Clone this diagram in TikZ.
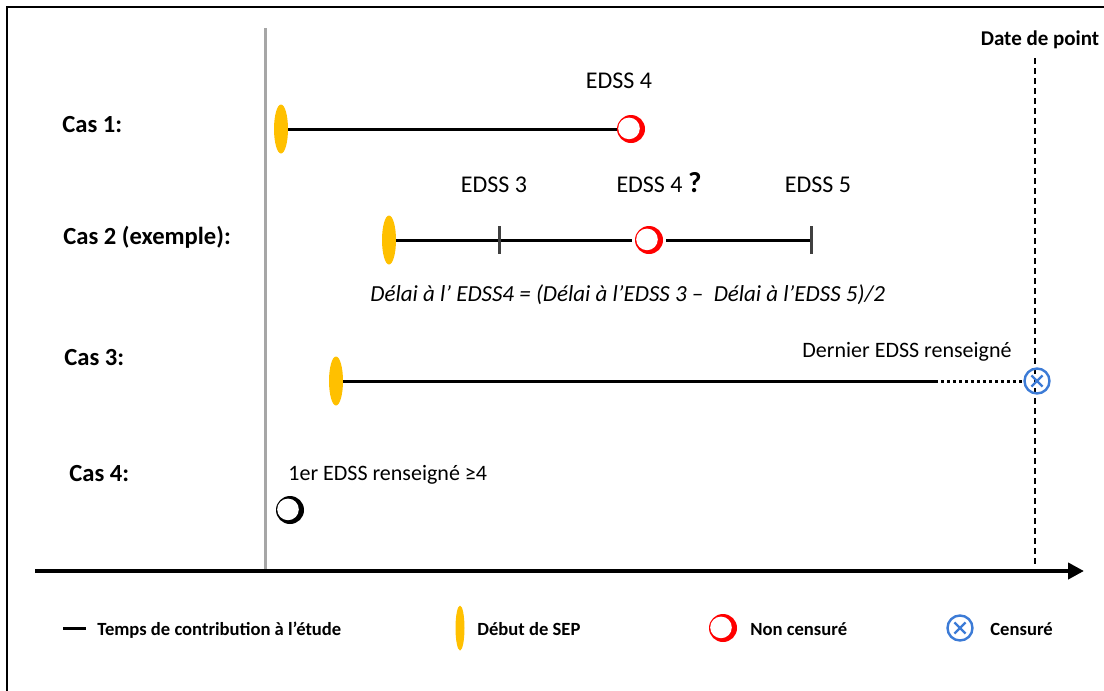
\documentclass[tikz,border=0pt]{standalone}
\usepackage{fontspec}
\setmainfont{Carlito}
\usetikzlibrary{shapes.geometric,arrows.meta}
\definecolor{sepjaune}{HTML}{FFC000}
\definecolor{censbleu}{HTML}{3C7BD6}
\definecolor{axegris}{HTML}{A6A6A6}
\definecolor{trait}{HTML}{404040}

\tikzset{
  debut/.style={ellipse, fill=sepjaune, inner sep=0pt, minimum width=7pt, minimum height=24.5pt},
  lune/.style={circle, fill=#1, inner sep=0pt, minimum size=14pt,
    path picture={\fill[white] ([shift={(-1pt,0.3pt)}]path picture bounding box.center) circle (5.4pt);}},
  lune/.default=red,
  censure/.style={circle, draw=censbleu, line width=1.2pt, inner sep=0pt, minimum size=12.5pt,
    path picture={\draw[censbleu, line width=1.2pt]
      ([shift={(-2.8pt,-2.8pt)}]path picture bounding box.center) -- ([shift={(2.8pt,2.8pt)}]path picture bounding box.center)
      ([shift={(-2.8pt,2.8pt)}]path picture bounding box.center) -- ([shift={(2.8pt,-2.8pt)}]path picture bounding box.center);}},
  temps/.style={line width=1.5pt},
  graduation/.style={trait, line width=1.5pt},
  cas/.style={inner sep=0pt, anchor=base west, font=\fontsize{12.3}{14}\selectfont\bfseries},
  edss/.style={inner sep=0pt, anchor=base, font=\fontsize{12}{14}\selectfont},
  note/.style={inner sep=0pt, font=\fontsize{11}{13}\selectfont},
  legende/.style={inner sep=0pt, anchor=base west, font=\fontsize{9.3}{11}\selectfont\bfseries},
}

\begin{document}
\begin{tikzpicture}[x=0.5pt, y=-0.5pt, >={Triangle[length=8pt,width=8pt]}]
        \useasboundingbox (0,0) rectangle (1104,691);

        % --- Cadre ---
        \draw[line width=0.8pt] (7,691) -- (7,7) -- (1104,7);

        % --- Axe du temps et date de point ---
        \draw[axegris, line width=1.5pt] (265,28) -- (265,571);
        \draw[line width=2pt, ->] (35,571) -- (1084,571);
        \node[inner sep=0pt, anchor=base, font=\fontsize{10.5}{12}\selectfont\bfseries] (datepoint) at (1040,45) {Date de point};
        \draw[line width=0.75pt, dash pattern=on 3pt off 2pt] (1035,58) -- (1035,566);

        % --- Cas 1 ---
        \node[cas] (cas1) at (62,132) {Cas 1:};
        \node[debut] (d1) at (281,129) {};
        \node[lune] (n1) at (631,129) {};
        \draw[temps] (d1) -- (n1);
        \node[edss] (l1) at (619,88) {EDSS 4};

        % --- Cas 2 (exemple) ---
        \node[cas] (cas2) at (63,244) {Cas 2 (exemple):};
        \node[debut] (d2) at (389,240) {};
        \coordinate (e3) at (499,240);
        \node[lune, outer sep=1.5pt] (n2) at (649,240) {};
        \coordinate (e5) at (811,240);
        \draw[temps] (d2) -- (e3) -- (n2) -- (e5);
        \draw[graduation] (e3) +(0,-14) -- +(0,14);
        \draw[graduation] (e5) +(0,-14) -- +(0,14);
        \node[edss] (l3) at (494,192) {EDSS 3};
        \node[edss] (l4) at (659,192) {EDSS 4 {\fontsize{14.5}{14}\selectfont\bfseries ?}};
        \node[edss] (l5) at (818,192) {EDSS 5};
        \node[note, anchor=base west, font=\fontsize{11.5}{13}\selectfont\itshape] (delai) at (370,301)
            {Délai à l’ EDSS4 = (Délai à l’EDSS 3 –\ \ Délai à l’EDSS 5)/2};

        % --- Cas 3 ---
        \node[cas] (cas3) at (64,365) {Cas 3:};
        \node[debut] (d3) at (336,381) {};
        \node[censure] (c3) at (1037,381) {};
        \coordinate (f3) at (935,381);
        \draw[temps] (d3) -- (f3);
        \draw[temps, dash pattern=on 1.5pt off 1.5pt] (f3) -- (c3);
        \node[note, anchor=base] (dernier) at (907,357) {Dernier EDSS renseigné};

        % --- Cas 4 ---
        \node[cas] (cas4) at (69,481) {Cas 4:};
        \node[note, anchor=base west] (premier) at (288,480) {1er EDSS renseigné ≥4};
        \node[lune=black] (n4) at (290,510) {};

        % --- Légende ---
        \coordinate (g1) at (63,628);
        \coordinate (g2) at (86,628);
        \draw[temps] (g1) -- (g2);
        \node[legende] at (97,635) {Temps de contribution à l’étude};
        \node[debut, minimum width=4.5pt, minimum height=22.5pt] (gd) at (460,628) {};
        \node[legende] at (477,635) {Début de SEP};
        \node[lune] (gn) at (723,628) {};
        \node[legende] at (750,635) {Non censuré};
        \node[censure] (gc) at (960,628) {};
        \node[legende] at (990,635) {Censuré};
\end{tikzpicture}
\end{document}
